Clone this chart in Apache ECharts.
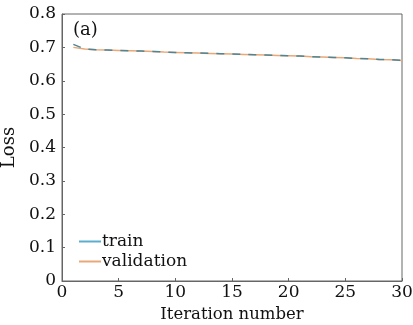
<!DOCTYPE html>
<html><head><meta charset="utf-8">
<script src="https://cdn.jsdelivr.net/npm/echarts@6/dist/echarts.min.js"></script>
<style>html,body{margin:0;padding:0;background:#fff}#c{width:413px;height:325px}</style>
</head><body><div id="c"></div>
<script>
var iterations = [1,2,3,4,5,6,7,8,9,10,11,12,13,14,15,16,17,18,19,20,21,22,23,24,25,26,27,28,29,30];
var trainLoss = [0.709,0.695,0.693,0.692,0.691,0.690,0.689,0.688,0.686,0.685,0.684,0.683,0.682,0.681,0.680,0.679,0.678,0.677,0.676,0.675,0.674,0.672,0.671,0.670,0.669,0.667,0.666,0.664,0.663,0.661];
var valLoss = [0.700,0.695,0.693,0.692,0.691,0.690,0.689,0.688,0.686,0.685,0.684,0.683,0.682,0.681,0.680,0.679,0.678,0.677,0.676,0.675,0.674,0.672,0.671,0.670,0.669,0.667,0.666,0.664,0.663,0.661];
var xTicks = [0,5,10,15,20,25,30];
var yTicks = [0,0.1,0.2,0.3,0.4,0.5,0.6,0.7,0.8];

var font = '"DejaVu Serif", "Liberation Serif", serif';
var chart = echarts.init(document.getElementById('c'), null, {renderer:'canvas'});
function pairs(xs, ys){ return xs.map(function(x,i){return [x, ys[i]];}); }
chart.setOption({
  animation:false,
  backgroundColor:'#fff',
  grid:{left:62,right:11,top:14,bottom:44,containLabel:false,outerBoundsMode:'none',show:true,borderColor:'#666',borderWidth:1,backgroundColor:'transparent'},
  xAxis:{type:'value',min:xTicks[0],max:xTicks[xTicks.length-1],interval:5,
    name:'Iteration number',nameLocation:'middle',nameGap:24,
    nameTextStyle:{fontFamily:font,fontSize:16.5,color:'#111'},
    axisLine:{lineStyle:{color:'#666'}},
    axisTick:{inside:true,length:3,lineStyle:{color:'#666'}},
    axisLabel:{fontFamily:font,fontSize:17,color:'#111',margin:3},
    splitLine:{show:false}},
  yAxis:{type:'value',min:yTicks[0],max:yTicks[yTicks.length-1],interval:0.1,
    name:'Loss',nameLocation:'middle',nameGap:36,
    nameTextStyle:{fontFamily:font,fontSize:18,color:'#111'},
    axisLine:{lineStyle:{color:'#666'}},
    axisTick:{inside:true,length:3,lineStyle:{color:'#666'}},
    axisLabel:{fontFamily:font,fontSize:17,color:'#111',margin:6,formatter:function(v){return v===0?'0':v.toFixed(1);}},
    splitLine:{show:false}},
  legend:{left:74,top:228,orient:'vertical',itemGap:3,itemWidth:22,itemHeight:2,
    icon:'rect',
    textStyle:{fontFamily:font,fontSize:17,color:'#111',padding:[0,0,0,-4]},
    data:[{name:'train',itemStyle:{color:'#5aaed0'}},{name:'validation',itemStyle:{color:'#e8a878'}}]},
  graphic:[{type:'text',left:73,top:21,style:{text:'(a)',fontFamily:font,fontSize:18,fill:'#111'}}],
  series:[
    {name:'validation',type:'line',data:pairs(iterations,valLoss),showSymbol:false,
     lineStyle:{color:'#e8a878',width:1.5},itemStyle:{color:'#e8a878'},z:2},
    {name:'train',type:'line',data:pairs(iterations,trainLoss),showSymbol:false,
     lineStyle:{color:'#4f8594',width:1.5,type:[8,8],dashOffset:0},itemStyle:{color:'#5aaed0'},z:3}
  ]
});
</script></body></html>
